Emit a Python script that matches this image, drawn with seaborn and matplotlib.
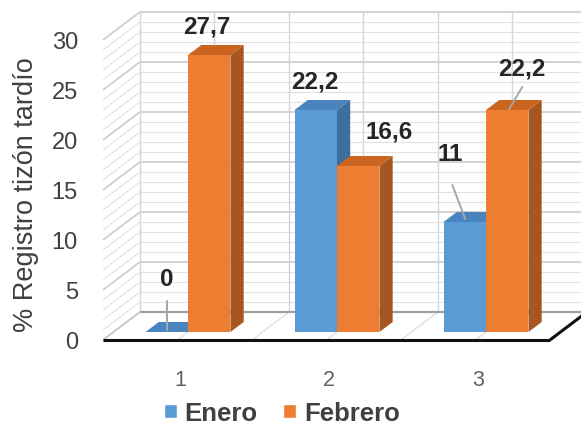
import numpy as np
import pandas as pd
import matplotlib.pyplot as plt
from matplotlib.patches import Polygon, Patch
import seaborn as sns

# datos
meses = ['1', '2', '3']
series = ['Enero', 'Febrero']
enero = [0, 22.2, 11]
febrero = [27.7, 16.6, 22.2]
etiquetas_enero = ['0', '22,2', '11']
etiquetas_febrero = ['27,7', '16,6', '22,2']
yticks = [0, 5, 10, 15, 20, 25, 30]

azul, naranja = '#5B9BD5', '#ED7D31'
azul_lado, naranja_lado = '#3D6E9E', '#A8561F'
azul_tope, naranja_tope = '#4A84C0', '#C9651F'

df = pd.DataFrame({
    'mes': meses * 2,
    'valor': enero + febrero,
    'serie': [series[0]] * 3 + [series[1]] * 3,
})

sns.set_theme(style='white')
plt.rcParams['font.family'] = ['Liberation Sans', 'DejaVu Sans']

W, H = 581, 427
SX, X0 = 149.0, 188.0   # px por categoria, px de la categoria 0
SY, Y0 = 10.0, 333.0    # px por unidad, px del valor 0 (cara frontal)

fig = plt.figure(figsize=(W / 100, H / 100), dpi=100)
ax = fig.add_axes([0, 0, 1, 1])

sns.barplot(data=df, x='mes', y='valor', hue='serie', palette=[azul, naranja],
            width=0.57, saturation=1, linewidth=0, legend=False, ax=ax)

ax.set_xlim(-X0 / SX, (W - X0) / SX)
ax.set_ylim((Y0 - H) / SY, Y0 / SY)
ax.axis('off')

# geometria 3D simple
DX, DY = 37 / SX, 2.8          # profundidad total del piso
F = 0.8 / 2.8                   # profundidad de la cara frontal de las barras
DB = F + 1.0 / 2.8              # profundidad de la cara trasera


def proj(x, v, d):
    return (x + (d - F) * DX, v + (d - F) * DY)


def linea(p, q, color, lw, z=1):
    ax.plot([p[0], q[0]], [p[1], q[1]], color=color, lw=lw, zorder=z,
            solid_capstyle='butt')


xa, xb = -0.5, 2.5
# pared del fondo y pared lateral
for v in range(0, 31):
    mayor = v % 5 == 0
    c = '#cccccc' if mayor else '#e2e2e2'
    lw = 1.2 if mayor else 0.8
    linea(proj(xa, v, 1), proj(xb + 0.3, v, 1), c, lw)
    linea(proj(xa, v, 0), proj(xa, v, 1), c, lw)
for x in np.arange(xa, xb + 0.01, 0.5):
    linea(proj(x, 0, 1), proj(x, 30, 1), '#d6d6d6', 1.0)
    if xa < x < xb:
        linea(proj(x, 0, 0), proj(x, 0, 1), '#dedede', 0.9)

# bordes del piso
linea(proj(xa, 0, 1), proj(xb + 0.3, 0, 1), '#a0a0a0', 1.6, 2)
linea(proj(xa, 0, 0), proj(xa, 0, 1), '#c8c8c8', 1.0, 2)
linea(proj(xa, 0, 0), proj(xb, 0, 0), '#111111', 2.2, 3)
linea(proj(xb, 0, 0), proj(xb, 0, 1.2), '#111111', 2.2, 3)

# caras laterales y superiores
barras = sorted(ax.patches, key=lambda p: p.get_x())
for i, p in enumerate(barras):
    x0, w, h = p.get_x(), p.get_width(), p.get_height()
    es_azul = p.get_facecolor()[2] > 0.6
    lado = azul_lado if es_azul else naranja_lado
    tope = azul_tope if es_azul else naranja_tope
    z = 10 + 2 * i
    side = Polygon([proj(x0 + w, 0, F), proj(x0 + w, 0, DB),
                    proj(x0 + w, h, DB), proj(x0 + w, h, F)],
                   closed=True, facecolor=lado, edgecolor='none', zorder=z)
    top = Polygon([proj(x0, h, F), proj(x0 + w, h, F),
                   proj(x0 + w, h, DB), proj(x0, h, DB)],
                  closed=True, facecolor=tope, edgecolor='none', zorder=z)
    ax.add_patch(side)
    ax.add_patch(top)
    p.set_zorder(z + 1)

# etiquetas de datos: (dx px, dv, guia)
ajustes_enero = [(0, 5.3, (0, 3.1, 0, 0.2)), (-1, 2.9, None), (-14.5, 6.8, (-12.5, 3.7, 0.5, 0.3))]
ajustes_febrero = [(-2, 2.9, None), (30.5, 3.5, None), (15, 4.2, (15, 2.3, 2, 0.1))]

barras_enero = sorted([p for p in barras if p.get_facecolor()[2] > 0.6], key=lambda p: p.get_x())
barras_febrero = sorted([p for p in barras if p.get_facecolor()[2] <= 0.6], key=lambda p: p.get_x())

for grupo, textos, ajustes in [(barras_enero, etiquetas_enero, ajustes_enero),
                               (barras_febrero, etiquetas_febrero, ajustes_febrero)]:
    for p, t, (dx, dv, guia) in zip(grupo, textos, ajustes):
        xc = p.get_x() + p.get_width() / 2
        h = p.get_height()
        ax.text(xc + dx / SX, h + dv, t, ha='center', va='center',
                fontsize=17.5, fontweight='bold', color='#262626', zorder=60)
        if guia:
            a, b, c, d = guia
            ax.plot([xc + a / SX, xc + c / SX], [h + b, h + d], color='#a6a6a6',
                    lw=1.4, zorder=59)

# ejes
for v in yticks:
    ax.text((78 - X0) / SX, v - 1.0, str(v), ha='right', va='center',
            fontsize=17, color='#404040')
for i, m in enumerate(meses):
    ax.text(i - 8 / SX, -4.8, m, ha='center', va='center', fontsize=15.5,
            color='#606060')

fig.text(26 / W, 1 - 195 / H, '% Registro tizón tardío', rotation=90,
         ha='center', va='center', fontsize=19.5, color='#404040')

handles = [Patch(facecolor=azul), Patch(facecolor=naranja)]
fig.legend(handles, series, loc='center', bbox_to_anchor=(282 / W, 1 - 414 / H),
           ncol=2, frameon=False, handlelength=0.5, handleheight=0.5,
           handletextpad=0.3, columnspacing=1.0,
           prop={'weight': 'bold', 'size': 18.5}, labelcolor='#404040')

fig.savefig('out.png', dpi=100)
